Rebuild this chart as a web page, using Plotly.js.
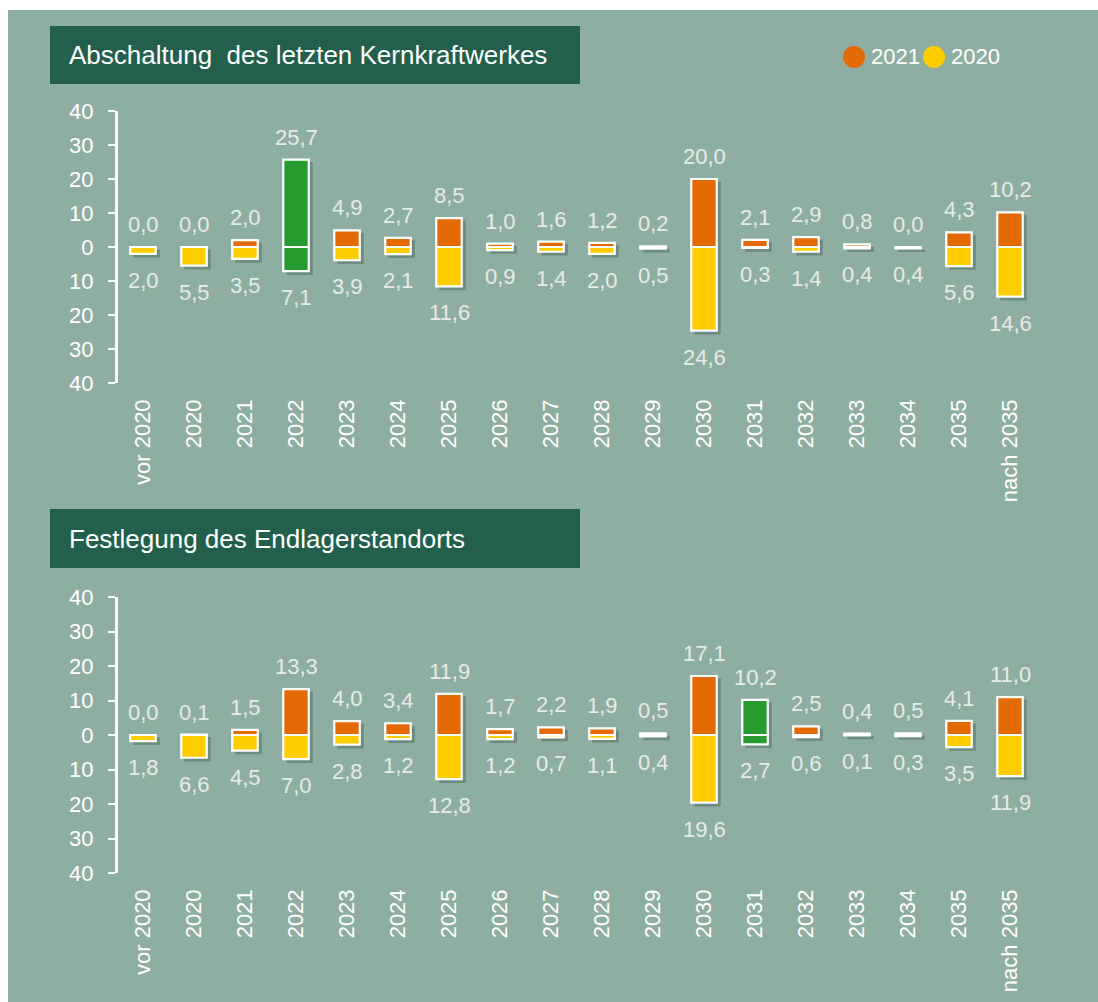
<!DOCTYPE html>
<html>
<head>
<meta charset="utf-8">
<script src="https://cdn.plot.ly/plotly-3.0.1.min.js"></script>
<style>html,body{margin:0;padding:0;background:#fff}#chart{width:1098px;height:1002px}</style>
</head>
<body>
<div id="chart"></div>
<script>
// ---- data ----
const categories = ["vor 2020","2020","2021","2022","2023","2024","2025","2026","2027","2028","2029","2030","2031","2032","2033","2034","2035","nach 2035"];
const seriesNames = ["2021","2020"];

const titleTop = "Abschaltung\u00a0 des letzten Kernkraftwerkes";
const top2021 = [0.0,0.0,2.0,25.7,4.9,2.7,8.5,1.0,1.6,1.2,0.2,20.0,2.1,2.9,0.8,0.0,4.3,10.2];
const top2020 = [2.0,5.5,3.5,7.1,3.9,2.1,11.6,0.9,1.4,2.0,0.5,24.6,0.3,1.4,0.4,0.4,5.6,14.6];
const topHighlight = "2022";

const titleBottom = "Festlegung des Endlagerstandorts";
const bot2021 = [0.0,0.1,1.5,13.3,4.0,3.4,11.9,1.7,2.2,1.9,0.5,17.1,10.2,2.5,0.4,0.5,4.1,11.0];
const bot2020 = [1.8,6.6,4.5,7.0,2.8,1.2,12.8,1.2,0.7,1.1,0.4,19.6,2.7,0.6,0.1,0.3,3.5,11.9];
const botHighlight = "2031";

const yTickVals = [-40,-30,-20,-10,0,10,20,30,40];
const yTickText = ["40","30","20","10","0","10","20","30","40"];

// ---- styles ----
const C_BG = "#8eaea2";
const C_BOX = "#225f4c";
const C_ORANGE = "#e36a05";
const C_YELLOW = "#fdcd00";
const C_GREEN = "#289b30";
const C_TEXT = "#ffffff";
const C_LABEL = "#e6ebe8";
const C_SHADOW = "rgba(35,60,50,0.30)";
const FONT = "'Liberation Sans Narrow', 'Arial Narrow', 'Liberation Sans', Arial, sans-serif";

const W = 1098, H = 1002;
const px = v => v / W;
const py = v => 1 - v / H;

const idx = categories.map((c, i) => i);
const bounds = categories.map((c, i) => i - 0.5).concat([categories.length - 0.5]);
const fmt = v => v.toFixed(1).replace(".", ",");
const BW = 0.5;

function panel(v21, v20, hl, xa, ya) {
  const hi = categories.indexOf(hl);
  const col21 = categories.map((c, i) => i === hi ? C_GREEN : C_ORANGE);
  const col20 = categories.map((c, i) => i === hi ? C_GREEN : C_YELLOW);
  const drop = 0.9; // shadow drop in value units (~3px)
  const traces = [
    {type: "bar", x: idx, y: v21.map((v, i) => v + v20[i] + 0.4), base: v20.map(v => -v - drop - 0.2),
     xaxis: xa, yaxis: ya, width: BW + 0.02, offset: -BW / 2 + 0.06,
     marker: {color: C_SHADOW, line: {width: 0}}, showlegend: false, hoverinfo: "skip"},
    {type: "bar", x: idx, y: v21, name: seriesNames[0], xaxis: xa, yaxis: ya, width: BW,
     marker: {color: col21, line: {color: "#ffffff", width: 2.2}}, showlegend: false, hoverinfo: "skip"},
    {type: "bar", x: idx, y: v20.map(v => -v), name: seriesNames[1], xaxis: xa, yaxis: ya, width: BW,
     marker: {color: col20, line: {color: "#ffffff", width: 2.2}}, showlegend: false, hoverinfo: "skip"}
  ];
  const ann = [];
  v21.forEach((v, i) => ann.push({xref: xa, yref: ya, x: i, y: v, text: fmt(v), showarrow: false,
    yanchor: "bottom", yshift: 8, font: {family: FONT, size: 22, color: C_LABEL}}));
  v20.forEach((v, i) => ann.push({xref: xa, yref: ya, x: i, y: -v, text: fmt(v), showarrow: false,
    yanchor: "top", yshift: -12, font: {family: FONT, size: 22, color: C_LABEL}}));
  return {traces, ann};
}

const p1 = panel(top2021, top2020, topHighlight, "x", "y");
const p2 = panel(bot2021, bot2020, botHighlight, "x2", "y2");

const xDom = [px(117.5), px(1035.5)];
const yDom1 = [py(383), py(111)];
const yDom2 = [py(873), py(597)];

const labelAxis = (anchor) => ({
  domain: xDom, anchor: anchor, range: [-0.5, categories.length - 0.5],
  tickmode: "array", tickvals: idx, ticktext: categories, tickangle: -90,
  ticks: "", showline: false, showgrid: false, zeroline: false,
  ticklabelstandoff: 11, tickfont: {family: FONT, size: 22, color: C_TEXT}, fixedrange: true
});
const zeroAxis = (over, pos) => ({
  domain: xDom, overlaying: over, anchor: "free", position: pos, side: "bottom",
  range: [-0.5, categories.length - 0.5], tickmode: "array", tickvals: bounds,
  ticks: "outside", ticklen: 7, tickwidth: 2, tickcolor: "#ffffff",
  showticklabels: false, showline: true, linecolor: "#ffffff", linewidth: 2.5,
  showgrid: false, zeroline: false, fixedrange: true
});
const valAxis = (dom, anchor) => ({
  domain: dom, anchor: anchor, range: [-40, 40], tickmode: "array",
  tickvals: yTickVals, ticktext: yTickText, ticks: "outside", ticklen: 7, tickwidth: 2,
  tickcolor: "#ffffff", showline: true, linecolor: "#ffffff", linewidth: 2.5,
  showgrid: false, zeroline: false, ticklabelstandoff: 10,
  tickfont: {family: FONT, size: 22, color: C_TEXT}, fixedrange: true
});

const shapes = [
  {type: "rect", xref: "paper", yref: "paper", x0: px(8), x1: 1, y0: 0, y1: py(10), fillcolor: C_BG, line: {width: 0}, layer: "below"},
  {type: "rect", xref: "paper", yref: "paper", x0: px(50), x1: px(580), y0: py(84), y1: py(26), fillcolor: C_BOX, line: {width: 0}, layer: "below"},
  {type: "rect", xref: "paper", yref: "paper", x0: px(50), x1: px(580), y0: py(568), y1: py(509), fillcolor: C_BOX, line: {width: 0}, layer: "below"},
  {type: "circle", xref: "paper", yref: "paper", x0: px(843), x1: px(865), y0: py(68), y1: py(46), fillcolor: C_ORANGE, line: {width: 0}},
  {type: "circle", xref: "paper", yref: "paper", x0: px(923), x1: px(945), y0: py(68), y1: py(46), fillcolor: C_YELLOW, line: {width: 0}}
];

const annotations = [
  {xref: "paper", yref: "paper", x: px(67), y: py(55), xanchor: "left", yanchor: "middle", showarrow: false,
   text: titleTop, font: {family: FONT, size: 26, color: "#ffffff"}},
  {xref: "paper", yref: "paper", x: px(67), y: py(539), xanchor: "left", yanchor: "middle", showarrow: false,
   text: titleBottom, font: {family: FONT, size: 26, color: "#ffffff"}},
  {xref: "paper", yref: "paper", x: px(869), y: py(57), xanchor: "left", yanchor: "middle", showarrow: false,
   text: seriesNames[0], font: {family: FONT, size: 22, color: "#ffffff"}},
  {xref: "paper", yref: "paper", x: px(949), y: py(57), xanchor: "left", yanchor: "middle", showarrow: false,
   text: seriesNames[1], font: {family: FONT, size: 22, color: "#ffffff"}}
].concat(p1.ann, p2.ann);

const layout = {
  width: W, height: H, margin: {l: 0, r: 0, t: 0, b: 0},
  paper_bgcolor: "#ffffff", plot_bgcolor: "rgba(0,0,0,0)",
  barmode: "overlay", showlegend: false,
  font: {family: FONT, color: C_TEXT},
  xaxis: labelAxis("y"),
  xaxis2: labelAxis("y2"),
  xaxis3: zeroAxis("x", (yDom1[0] + yDom1[1]) / 2),
  xaxis4: zeroAxis("x2", (yDom2[0] + yDom2[1]) / 2),
  yaxis: valAxis(yDom1, "x"),
  yaxis2: valAxis(yDom2, "x2"),
  shapes: shapes,
  annotations: annotations
};

Plotly.newPlot("chart", p1.traces.concat(p2.traces), layout, {displayModeBar: false, staticPlot: true});
</script>
</body>
</html>
